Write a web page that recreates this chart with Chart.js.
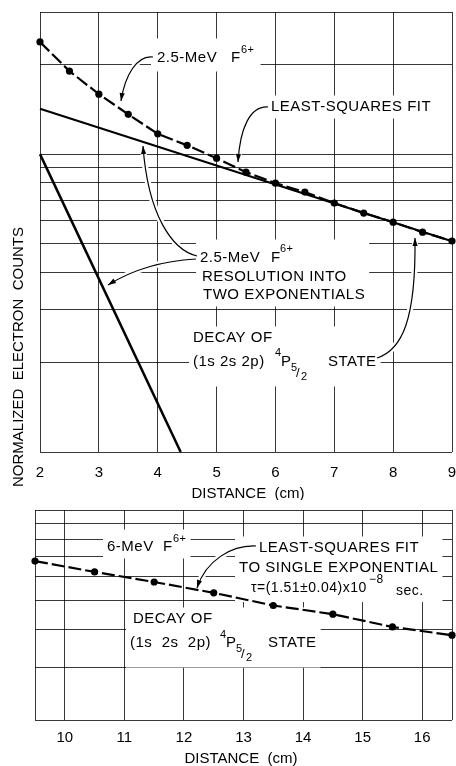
<!DOCTYPE html>
<html>
<head>
<meta charset="utf-8">
<script src="https://cdn.jsdelivr.net/npm/chart.js@4.4.1/dist/chart.umd.min.js"></script>
<style>
  html, body { margin: 0; padding: 0; background: #fff; }
  #wrap { position: relative; width: 456px; height: 766px; overflow: hidden; }
  canvas { position: absolute; left: 0; }
  #topChart { top: 0; }
  #bottomChart { top: 500px; }
</style>
</head>
<body>
<div id="wrap">
  <canvas id="topChart" width="456" height="500"></canvas>
  <canvas id="bottomChart" width="456" height="266"></canvas>
</div>
<script>
// upper panel: 2.5-MeV F6+, distance 2..9 cm
const xTop = [2, 2.5, 3, 3.5, 4, 4.5, 5, 5.5, 6, 6.5, 7, 7.5, 8, 8.5, 9];
const countsTop = [23.8, 19.0, 15.9, 13.6, 11.7, 10.7, 9.69, 8.70, 7.99, 7.46, 6.85, 6.34, 5.91, 5.47, 5.11];
// resolution into two exponentials
const slowX = [2, 9];
const slowCounts = [14.2, 5.1];
const fastX = [2, 4.39];
const fastCounts = [10, 1];
const xGridTop = [2, 3, 4, 5, 6, 7, 8, 9];
const yGridTop = [1, 2, 3, 4, 5, 6, 7, 8, 9, 10, 20, 30];

// lower panel: 6-MeV F6+, distance 9.5..16.5 cm
const xBottom = [9.5, 10.5, 11.5, 12.5, 13.5, 14.5, 15.5, 16.5];
const countsBottom = [6.76, 6.22, 5.76, 5.30, 4.81, 4.50, 4.08, 3.83];
const xGridBottom = [9.5, 10, 11, 12, 13, 14, 15, 16, 16.5];
const yGridBottom = [2, 3, 4, 5, 6, 7, 8, 9, 10];

const FONT = '"Liberation Sans", Arial, sans-serif';
const gridColor = 'rgba(0,0,0,0.78)';

Chart.defaults.font.family = FONT;
Chart.defaults.color = '#000';

const pts = (xs, ys) => xs.map((x, i) => ({ x, y: ys[i] }));

function fontOf(size) { return size + 'px ' + FONT; }

function groupBox(ctx, g, oy) {
  let x0 = Infinity, y0 = Infinity, x1 = -Infinity, y1 = -Infinity;
  ctx.letterSpacing = '0.5px';
  g.parts.forEach(([t, x, y, s]) => {
    ctx.font = fontOf(s);
    const w = ctx.measureText(t).width;
    x0 = Math.min(x0, x); x1 = Math.max(x1, x + w);
    y0 = Math.min(y0, y - s * 0.5 - oy); y1 = Math.max(y1, y + s * 0.5 - oy);
  });
  const p = g.pad || 4;
  return { x: x0 - p, y: y0 - p, w: x1 - x0 + 2 * p, h: y1 - y0 + 2 * p };
}

function leaderPath(ctx, l, oy) {
  ctx.beginPath();
  ctx.moveTo(l[0], l[1] - oy);
  ctx.bezierCurveTo(l[2], l[3] - oy, l[4], l[5] - oy, l[6], l[7] - oy);
  ctx.stroke();
}

function arrowHead(ctx, l, oy) {
  const ang = Math.atan2(l[7] - l[5], l[6] - l[4]);
  const x = l[6], y = l[7] - oy, len = 8, hw = 2.6;
  ctx.beginPath();
  ctx.moveTo(x, y);
  ctx.lineTo(x - len * Math.cos(ang) + hw * Math.sin(ang), y - len * Math.sin(ang) - hw * Math.cos(ang));
  ctx.lineTo(x - len * Math.cos(ang) - hw * Math.sin(ang), y - len * Math.sin(ang) + hw * Math.cos(ang));
  ctx.closePath();
  ctx.fill();
}

// labels, leader arrows and axis titles, given in page pixels (oy = canvas offset)
function notesPlugin(groups, leaders, titles, oy) {
  return {
    id: 'notes',
    beforeDatasetsDraw(chart) {
      const ctx = chart.ctx;
      ctx.save();
      ctx.fillStyle = '#fff';
      groups.forEach(g => {
        const b = groupBox(ctx, g, oy);
        ctx.fillRect(b.x, b.y, b.w, b.h);
      });
      ctx.strokeStyle = '#fff';
      ctx.lineWidth = 6;
      leaders.forEach(l => leaderPath(ctx, l, oy));
      ctx.restore();
    },
    afterDraw(chart) {
      const ctx = chart.ctx;
      ctx.save();
      ctx.fillStyle = '#000';
      ctx.textBaseline = 'middle';
      ctx.textAlign = 'left';
      ctx.letterSpacing = '0.5px';
      groups.forEach(g => g.parts.forEach(([t, x, y, s]) => {
        ctx.font = fontOf(s);
        ctx.fillText(t, x, y - oy);
      }));
      ctx.strokeStyle = '#000';
      ctx.lineWidth = 1.2;
      leaders.forEach(l => { leaderPath(ctx, l, oy); arrowHead(ctx, l, oy); });
      ctx.letterSpacing = '0px';
      titles.forEach(tt => {
        ctx.save();
        ctx.font = fontOf(tt.size);
        ctx.textAlign = 'center';
        ctx.translate(tt.x, tt.y - oy);
        if (tt.rot) ctx.rotate(tt.rot);
        ctx.fillText(tt.t, 0, 0);
        ctx.restore();
      });
      ctx.restore();
    }
  };
}

function makeOptions(xMin, xMax, xGrid, yMin, yMax, yGrid, pad, axisH, tickPad) {
  return {
    responsive: false,
    maintainAspectRatio: false,
    animation: false,
    layout: { padding: pad },
    plugins: { legend: { display: false }, tooltip: { enabled: false } },
    scales: {
      x: {
        type: 'linear', min: xMin, max: xMax,
        afterBuildTicks: s => { s.ticks = xGrid.map(v => ({ value: v })); },
        afterFit: s => { s.height = axisH; s.paddingLeft = 0; s.paddingRight = 0; },
        grid: { color: gridColor, lineWidth: 1, drawTicks: false },
        border: { display: false },
        ticks: {
          padding: tickPad, font: { size: 15 }, maxRotation: 0, autoSkip: false,
          callback: v => Number.isInteger(v) ? String(v) : ''
        }
      },
      y: {
        type: 'logarithmic', min: yMin, max: yMax,
        afterBuildTicks: s => { s.ticks = yGrid.map(v => ({ value: v })); },
        afterFit: s => { s.width = 0; },
        grid: { color: gridColor, lineWidth: 1, drawTicks: false },
        border: { display: false },
        ticks: { display: false }
      }
    }
  };
}

const dotted = {
  borderColor: '#000', borderWidth: 2.2, borderDash: [13, 4],
  pointRadius: 3.6, pointBackgroundColor: '#000', pointBorderWidth: 0,
  tension: 0, clip: false
};
const solid = { borderColor: '#000', pointRadius: 0, tension: 0, clip: false };

const topGroups = [
  { pad: 6, parts: [['2.5-MeV', 157, 58, 15], ['F', 231, 58, 15], ['6+', 241, 50, 11]] },
  { parts: [['LEAST-SQUARES FIT', 271, 107, 15]] },
  { parts: [['2.5-MeV', 200, 258, 15], ['F', 271, 258, 15], ['6+', 280, 249, 11],
            ['RESOLUTION INTO', 202, 277, 15], ['TWO EXPONENTIALS', 203, 295, 15]] },
  { parts: [['DECAY OF', 193, 338, 15], ['(1s 2s 2p)', 193, 362, 15], ['4', 275, 353, 11],
            ['P', 281, 362, 15], ['5', 291, 368, 11], ['/', 296, 373, 13], ['2', 301, 377, 11],
            ['STATE', 328, 362, 15]] }
];
const topLeaders = [
  [153, 57, 137, 55, 125, 75, 121, 101],
  [268, 107, 250, 106, 240, 128, 238, 162],
  [197, 256, 172, 250, 148, 215, 143, 146],
  [196, 259, 160, 261, 132, 270, 108, 285],
  [377, 358, 402, 350, 416, 320, 415, 238]
];
const topTitles = [
  { t: 'NORMALIZED  ELECTRON  COUNTS', x: 19, y: 357, size: 15, rot: -Math.PI / 2 },
  { t: 'DISTANCE  (cm)', x: 248, y: 494, size: 15 }
];

const bottomGroups = [
  { parts: [['6-MeV', 107, 547, 15], ['F', 163, 547, 15], ['6+', 173, 539, 11]] },
  { parts: [['LEAST-SQUARES FIT', 259, 548, 15], ['TO SINGLE EXPONENTIAL', 239, 568, 15],
            ['\u03c4=(1.51\u00b10.04)x10', 251, 588, 14], ['\u22128', 369, 580, 12], ['sec.', 396, 591, 14]] },
  { parts: [['DECAY OF', 133, 619, 15], ['(1s  2s  2p)', 130, 643, 15], ['4', 220, 635, 11],
            ['P', 226, 643, 15], ['5', 236, 649, 11], ['/', 241, 654, 13], ['2', 246, 658, 11],
            ['STATE', 268, 643, 15]] }
];
const bottomLeaders = [
  [256, 546, 232, 545, 206, 560, 197, 588]
];
const bottomTitles = [
  { t: 'DISTANCE  (cm)', x: 241, y: 759, size: 15 }
];

new Chart(document.getElementById('topChart'), {
  type: 'line',
  data: {
    datasets: [
      Object.assign({ data: pts(xTop, countsTop) }, dotted),
      Object.assign({ data: pts(slowX, slowCounts), borderWidth: 2 }, solid),
      Object.assign({ data: pts(fastX, fastCounts), borderWidth: 2.5 }, solid)
    ]
  },
  options: makeOptions(2, 9, xGridTop, 1, 30, yGridTop, { left: 40, right: 1, top: 12, bottom: 0 }, 48, 12),
  plugins: [notesPlugin(topGroups, topLeaders, topTitles, 0)]
});

new Chart(document.getElementById('bottomChart'), {
  type: 'line',
  data: {
    datasets: [
      Object.assign({ data: pts(xBottom, countsBottom) }, dotted)
    ]
  },
  options: makeOptions(9.5, 16.5, xGridBottom, 2, 10, yGridBottom, { left: 35, right: 2, top: 10, bottom: 0 }, 46, 9),
  plugins: [notesPlugin(bottomGroups, bottomLeaders, bottomTitles, 500)]
});
</script>
</body>
</html>
